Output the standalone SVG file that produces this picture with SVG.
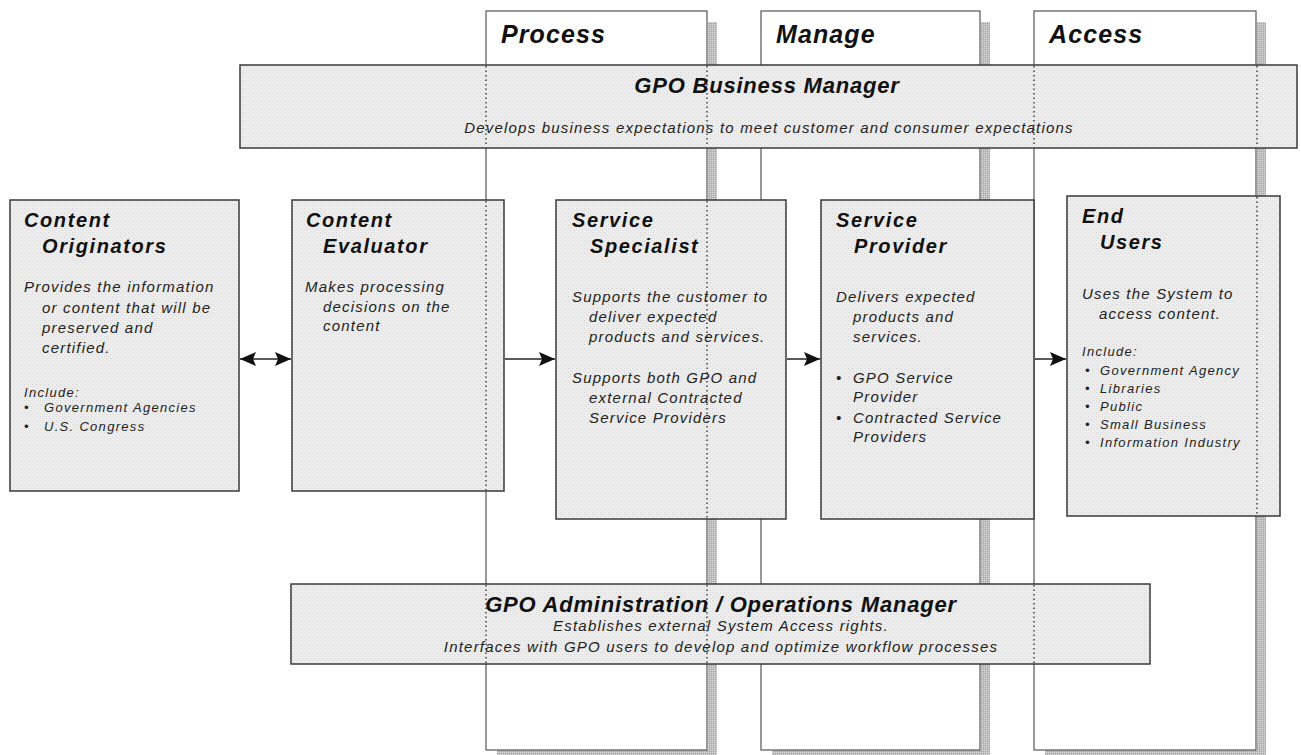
<svg xmlns="http://www.w3.org/2000/svg" width="1301" height="755" viewBox="0 0 1301 755">
<defs>
<pattern id="dith" width="4" height="4" patternUnits="userSpaceOnUse">
<rect width="4" height="4" fill="#ebebeb"/>
<rect x="0" y="0" width="1" height="1" fill="#d9d9d9"/>
<rect x="2" y="2" width="1" height="1" fill="#d9d9d9"/>
<rect x="1" y="3" width="1" height="1" fill="#f6f6f6"/>
<rect x="3" y="1" width="1" height="1" fill="#f6f6f6"/>
</pattern>
<pattern id="shd" width="2" height="2" patternUnits="userSpaceOnUse">
<rect width="2" height="2" fill="#bebebe"/>
<rect x="0" y="0" width="1" height="1" fill="#d8d8d8"/>
<rect x="1" y="1" width="1" height="1" fill="#a8a8a8"/>
</pattern>
<marker id="ah" markerWidth="16" markerHeight="14" refX="16" refY="7" orient="auto" markerUnits="userSpaceOnUse">
<path d="M0,0 L16,7 L0,14 L3,7 Z" fill="#111"/>
</marker>
<marker id="ahs" markerWidth="16" markerHeight="14" refX="0" refY="7" orient="auto" markerUnits="userSpaceOnUse">
<path d="M16,0 L0,7 L16,14 L13,7 Z" fill="#111"/>
</marker>
</defs>
<style>
.col{fill:#fff;stroke:#555;stroke-width:1.2}
.shadow{fill:url(#shd)}
.box{fill:url(#dith);stroke:#3a3a3a;stroke-width:1.5}
.dot{stroke:#444;stroke-width:1.5;stroke-dasharray:1.5 3;fill:none}
text{font-family:"Liberation Sans",Arial,sans-serif;font-style:italic;fill:#222}
.hdr{font-size:25px;font-weight:bold;letter-spacing:1.1px;fill:#111}
.ttl{font-size:20px;font-weight:bold;letter-spacing:1.6px;fill:#111}
.body{font-size:15px;letter-spacing:1.2px}
.sm{font-size:13px;letter-spacing:1.3px}
.band{font-size:22px;font-weight:bold;letter-spacing:0.8px;fill:#111}
.c{text-anchor:middle}
.conn line{stroke:#222;stroke-width:1.5}
</style>

<g id="columns">
<g id="col-process">
<rect class="shadow" x="708" y="22" width="9" height="731"/>
<rect class="shadow" x="497" y="750" width="220" height="5"/>
<rect class="col" x="486" y="11" width="221" height="739"/>
<text class="hdr" x="501" y="43">Process</text>
</g>
<g id="col-manage">
<rect class="shadow" x="981" y="22" width="9" height="731"/>
<rect class="shadow" x="772" y="750" width="218" height="5"/>
<rect class="col" x="761" y="11" width="219" height="739"/>
<text class="hdr" x="776" y="43">Manage</text>
</g>
<g id="col-access">
<rect class="shadow" x="1257" y="22" width="9" height="731"/>
<rect class="shadow" x="1045" y="750" width="221" height="5"/>
<rect class="col" x="1034" y="11" width="222" height="739"/>
<text class="hdr" x="1049" y="43">Access</text>
</g>
</g>

<g id="business-manager">
<rect class="box" x="240" y="65" width="1057" height="83"/>
<line class="dot" x1="486" y1="66" x2="486" y2="147"/>
<line class="dot" x1="707" y1="66" x2="707" y2="147"/>
<line class="dot" x1="1034" y1="66" x2="1034" y2="147"/>
<line class="dot" x1="1257" y1="66" x2="1257" y2="147"/>
<text class="band c" x="767" y="93">GPO Business Manager</text>
<text class="body c" x="769" y="133">Develops business expectations to meet customer and consumer expectations</text>
</g>

<g id="content-originators">
<rect class="box" x="10" y="200" width="229" height="291"/>
<text class="ttl" x="24" y="227">Content</text>
<text class="ttl" x="42" y="253">Originators</text>
<text class="body" x="24" y="292">Provides the information</text>
<text class="body" x="42" y="313">or content that will be</text>
<text class="body" x="42" y="333">preserved and</text>
<text class="body" x="42" y="353">certified.</text>
<text class="sm" x="24" y="397">Include:</text>
<text class="sm" x="24" y="412">•</text>
<text class="sm" x="44" y="412">Government Agencies</text>
<text class="sm" x="24" y="431">•</text>
<text class="sm" x="44" y="431">U.S. Congress</text>
</g>

<g id="content-evaluator">
<rect class="box" x="292" y="200" width="212" height="291"/>
<line class="dot" x1="486" y1="201" x2="486" y2="490"/>
<text class="ttl" x="306" y="227">Content</text>
<text class="ttl" x="323" y="253">Evaluator</text>
<text class="body" x="305" y="292">Makes processing</text>
<text class="body" x="323" y="312">decisions on the</text>
<text class="body" x="323" y="331">content</text>
</g>

<g id="service-specialist">
<rect class="box" x="556" y="200" width="230" height="319"/>
<line class="dot" x1="707" y1="201" x2="707" y2="518"/>
<text class="ttl" x="572" y="227">Service</text>
<text class="ttl" x="590" y="253">Specialist</text>
<text class="body" x="572" y="302">Supports the customer to</text>
<text class="body" x="589" y="322">deliver expected</text>
<text class="body" x="589" y="342">products and services.</text>
<text class="body" x="572" y="383">Supports both GPO and</text>
<text class="body" x="589" y="403">external Contracted</text>
<text class="body" x="589" y="423">Service Providers</text>
</g>

<g id="service-provider">
<rect class="box" x="821" y="200" width="213" height="319"/>
<text class="ttl" x="836" y="227">Service</text>
<text class="ttl" x="854" y="253">Provider</text>
<text class="body" x="836" y="302">Delivers expected</text>
<text class="body" x="853" y="322">products and</text>
<text class="body" x="853" y="342">services.</text>
<text class="body" x="836" y="383">•</text>
<text class="body" x="853" y="383">GPO Service</text>
<text class="body" x="853" y="402">Provider</text>
<text class="body" x="836" y="423">•</text>
<text class="body" x="853" y="423">Contracted Service</text>
<text class="body" x="853" y="442">Providers</text>
</g>

<g id="end-users">
<rect class="box" x="1067" y="196" width="213" height="320"/>
<line class="dot" x1="1257" y1="197" x2="1257" y2="515"/>
<text class="ttl" x="1082" y="223">End</text>
<text class="ttl" x="1100" y="249">Users</text>
<text class="body" x="1082" y="299">Uses the System to</text>
<text class="body" x="1099" y="319">access content.</text>
<text class="sm" x="1082" y="356">Include:</text>
<text class="sm" x="1085" y="375">•</text>
<text class="sm" x="1100" y="375">Government Agency</text>
<text class="sm" x="1085" y="393">•</text>
<text class="sm" x="1100" y="393">Libraries</text>
<text class="sm" x="1085" y="411">•</text>
<text class="sm" x="1100" y="411">Public</text>
<text class="sm" x="1085" y="429">•</text>
<text class="sm" x="1100" y="429">Small Business</text>
<text class="sm" x="1085" y="447">•</text>
<text class="sm" x="1100" y="447">Information Industry</text>
</g>

<g id="admin-manager">
<rect class="box" x="291" y="584" width="859" height="80"/>
<line class="dot" x1="486" y1="585" x2="486" y2="663"/>
<line class="dot" x1="707" y1="585" x2="707" y2="663"/>
<line class="dot" x1="1034" y1="585" x2="1034" y2="663"/>
<text class="band c" x="721" y="612">GPO Administration / Operations Manager</text>
<text class="body c" x="721" y="631">Establishes external System Access rights.</text>
<text class="body c" x="721" y="652">Interfaces with GPO users to develop and optimize workflow processes</text>
</g>

<g class="conn" id="connectors">
<line x1="240" y1="359" x2="291" y2="359" marker-start="url(#ahs)" marker-end="url(#ah)"/>
<line x1="505" y1="359" x2="555" y2="359" marker-end="url(#ah)"/>
<line x1="787" y1="359" x2="820" y2="359" marker-end="url(#ah)"/>
<line x1="1035" y1="359" x2="1066" y2="359" marker-end="url(#ah)"/>
</g>
</svg>
